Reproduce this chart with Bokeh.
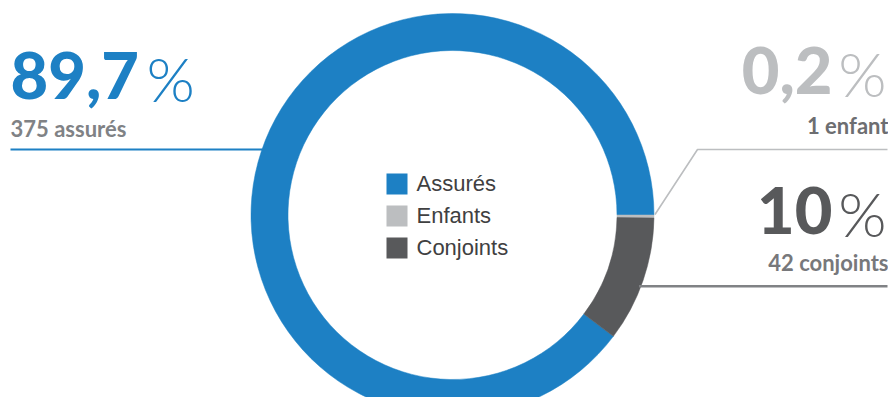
import numpy as np
from bokeh.plotting import figure
from bokeh.models import Range1d, ColumnDataSource
from bokeh.core.properties import value
from bokeh.embed import file_html
from bokeh.resources import INLINE

# ---- data ----
categories = ["Assurés", "Enfants", "Conjoints"]
counts = [375, 1, 42]
pct_labels = ["89,7", "0,2", "10"]
sub_labels = ["375 assurés", "1 enfant", "42 conjoints"]
colors = ["#1d80c4", "#bcbec0", "#58595b"]
pct_colors = ["#1d80c4", "#bcbec0", "#58595b"]
sub_colors = ["#808285", "#6d6e71", "#77787b"]
line_colors = ["#1d80c4", "#bcbec0", "#808285"]

W, H = 888, 397
p = figure(width=W, height=H, output_backend="svg", toolbar_location=None,
           x_range=Range1d(0, W), y_range=Range1d(413 - H, 413),
           min_border=0, outline_line_color=None)
p.axis.visible = False
p.grid.visible = False
p.background_fill_color = "white"

def Y(sy):
    return 413 - sy

# baseline correction for the svg text layout
def TB(sy, size):
    return Y(sy) + 0.35 * size

cx, cy = 452, Y(214.5)
r_in, r_out = 164.5, 201.5

# slice angles: Enfants then Conjoints clockwise from 3 o'clock, Assurés the rest
fr = np.array(counts, dtype=float) / sum(counts)
a_enf = fr[1] * 2 * np.pi
a_con = fr[2] * 2 * np.pi
starts = [0.0, -a_enf, -(a_enf + a_con)]
ends = [2 * np.pi - (a_enf + a_con), 0.0, -a_enf]
src = ColumnDataSource(dict(start=starts, end=ends, color=colors, cat=categories))
p.annular_wedge(x=cx, y=cy, inner_radius=r_in, outer_radius=r_out,
                start_angle="start", end_angle="end", direction="anticlock",
                fill_color="color", line_color="color", line_width=0.5, source=src)

RX = W - 1  # right end of the right-hand leader lines

# leader lines
ya = Y(149)
xa = cx - np.sqrt(r_out**2 - (ya - cy)**2)
p.line([10, xa + 2], [ya, ya], line_color=line_colors[0], line_width=2.2)

ang_e = -a_enf / 2
ex, ey = cx + r_out * np.cos(ang_e) + 1, cy + r_out * np.sin(ang_e) + 2
p.line([ex, 697, RX], [ey, Y(149), Y(149)], line_color=line_colors[1], line_width=1.6)

yc = Y(285.7)
xc = cx + np.sqrt(r_out**2 - (yc - cy)**2)
p.line([xc - 2, RX], [yc, yc], line_color=line_colors[2], line_width=2.6)

big_font = value("Lato Black, Lato")
sub_font = value("Lato")
thin_font = value("Lato Light, Lato")
BIG, PCT, SUB, LEG = 65, 62, 22, 22

# left label
p.text(x=[10], y=[TB(98, BIG)], text=[pct_labels[0]], text_font=big_font, text_font_style="bold",
       text_font_size=f"{BIG}px", text_color=pct_colors[0], text_align="left", text_baseline="alphabetic")
p.text(x=[146], y=[TB(99, PCT)], text=["%"], text_font=thin_font,
       text_font_size=f"{PCT}px", text_color=pct_colors[0], text_align="left", text_baseline="alphabetic")
p.text(x=[10], y=[TB(136, SUB)], text=[sub_labels[0]], text_font=sub_font, text_font_style="bold",
       text_font_size=f"{SUB}px", text_color=sub_colors[0], text_align="left", text_baseline="alphabetic")

# right labels (shifted slightly left to stay inside the plot)
dx = -5
for i, (by, sby) in zip([1, 2], [(93, 133), (233, 270)]):
    p.text(x=[837 + dx], y=[TB(by, BIG)], text=[pct_labels[i]], text_font=big_font, text_font_style="bold",
           text_font_size=f"{BIG}px", text_color=pct_colors[i], text_align="right", text_baseline="alphabetic")
    p.text(x=[891 + dx], y=[TB(by + 1, PCT)], text=["%"], text_font=thin_font,
           text_font_size=f"{PCT}px", text_color=pct_colors[i], text_align="right", text_baseline="alphabetic")
    p.text(x=[893 + dx], y=[TB(sby, SUB)], text=[sub_labels[i]], text_font=sub_font, text_font_style="bold",
           text_font_size=f"{SUB}px", text_color=sub_colors[i], text_align="right", text_baseline="alphabetic")

# legend in the centre
leg_sy = [183.5, 215.5, 247.5]
p.rect(x=[396.5] * 3, y=[Y(v) for v in leg_sy], width=21, height=21, fill_color=colors, line_color=None)
p.text(x=[416] * 3, y=[TB(v + 7.5, LEG) for v in leg_sy], text=categories, text_font=value("Liberation Sans"),
       text_font_size=f"{LEG}px", text_color="#404041", text_align="left", text_baseline="alphabetic")

open("out.html", "w").write(file_html(p, INLINE))
